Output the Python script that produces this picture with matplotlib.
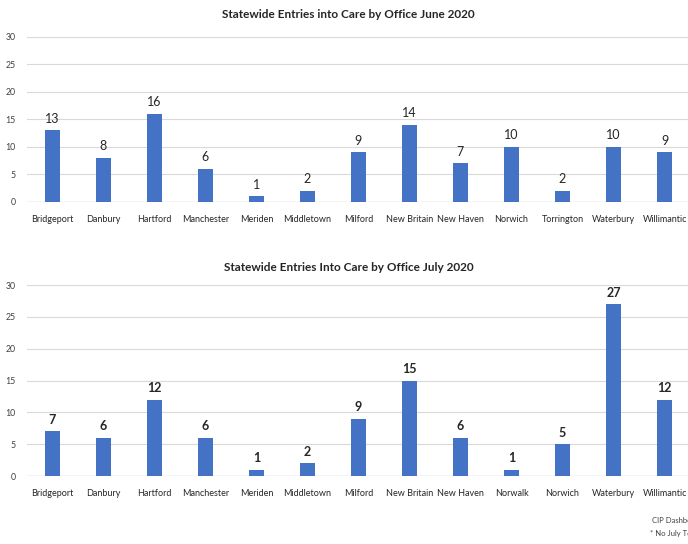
import matplotlib
matplotlib.use("Agg")
import matplotlib.pyplot as plt
import numpy as np

plt.rcParams['font.family'] = ['Lato', 'DejaVu Sans']

# office counts per month
june_offices = ['Bridgeport', 'Danbury', 'Hartford', 'Manchester', 'Meriden',
                'Middletown', 'Milford', 'New Britain', 'New Haven', 'Norwich',
                'Torrington', 'Waterbury', 'Willimantic']
june_entries = [13, 8, 16, 6, 1, 2, 9, 14, 7, 10, 2, 10, 9]

july_offices = ['Bridgeport', 'Danbury', 'Hartford', 'Manchester', 'Meriden',
                'Middletown', 'Milford', 'New Britain', 'New Haven', 'Norwalk',
                'Norwich', 'Waterbury', 'Willimantic']
july_entries = [7, 6, 12, 6, 1, 2, 9, 15, 6, 1, 5, 27, 12]

y_ticks = [0, 5, 10, 15, 20, 25, 30]

BAR = '#4472C4'
GRID = '#D9D9D9'

fig = plt.figure(figsize=(6.88, 5.44), dpi=100)
ax1 = fig.add_axes([0.039, 0.629, 0.964, 0.303])
ax2 = fig.add_axes([0.039, 0.125, 0.964, 0.351])


def draw(ax, offices, entries, title, bold, title_pad):
    x = np.arange(len(offices))
    bars = ax.bar(x, entries, width=0.3, color=BAR, zorder=3)
    ax.bar_label(bars, padding=4, fontsize=9,
                 fontweight='bold' if bold else 'normal', color='#262626')
    ax.set_xlim(-0.5, len(offices) - 0.5)
    ax.set_ylim(0, 30)
    ax.set_yticks(y_ticks)
    ax.set_xticks(x)
    ax.set_xticklabels(offices, fontsize=6.5, color='#262626')
    ax.tick_params(axis='y', labelsize=6.3, labelcolor='#404040', length=0, pad=8)
    ax.tick_params(axis='x', length=0, pad=9.5)
    ax.yaxis.grid(True, color=GRID, linewidth=0.8, zorder=0)
    ax.axhline(0, color='#BFBFBF', linewidth=0.9, zorder=2)
    for s in ax.spines.values():
        s.set_visible(False)
    ax.set_title(title, fontsize=8.5, fontweight='bold', color='#262626',
                 pad=title_pad, x=0.5 - 0.015)


draw(ax1, june_offices, june_entries,
     'Statewide Entries into Care by Office June 2020', False, 13.5)
draw(ax2, july_offices, july_entries,
     'Statewide Entries Into Care by Office July 2020', True, 10)

fig.text(0.948, 0.038, 'CIP Dashboard', fontsize=5.5, color='#404040')
fig.text(0.945, 0.014, '* No July Torrington data', fontsize=5.5, color='#404040')

fig.savefig('out.png', dpi=100)
